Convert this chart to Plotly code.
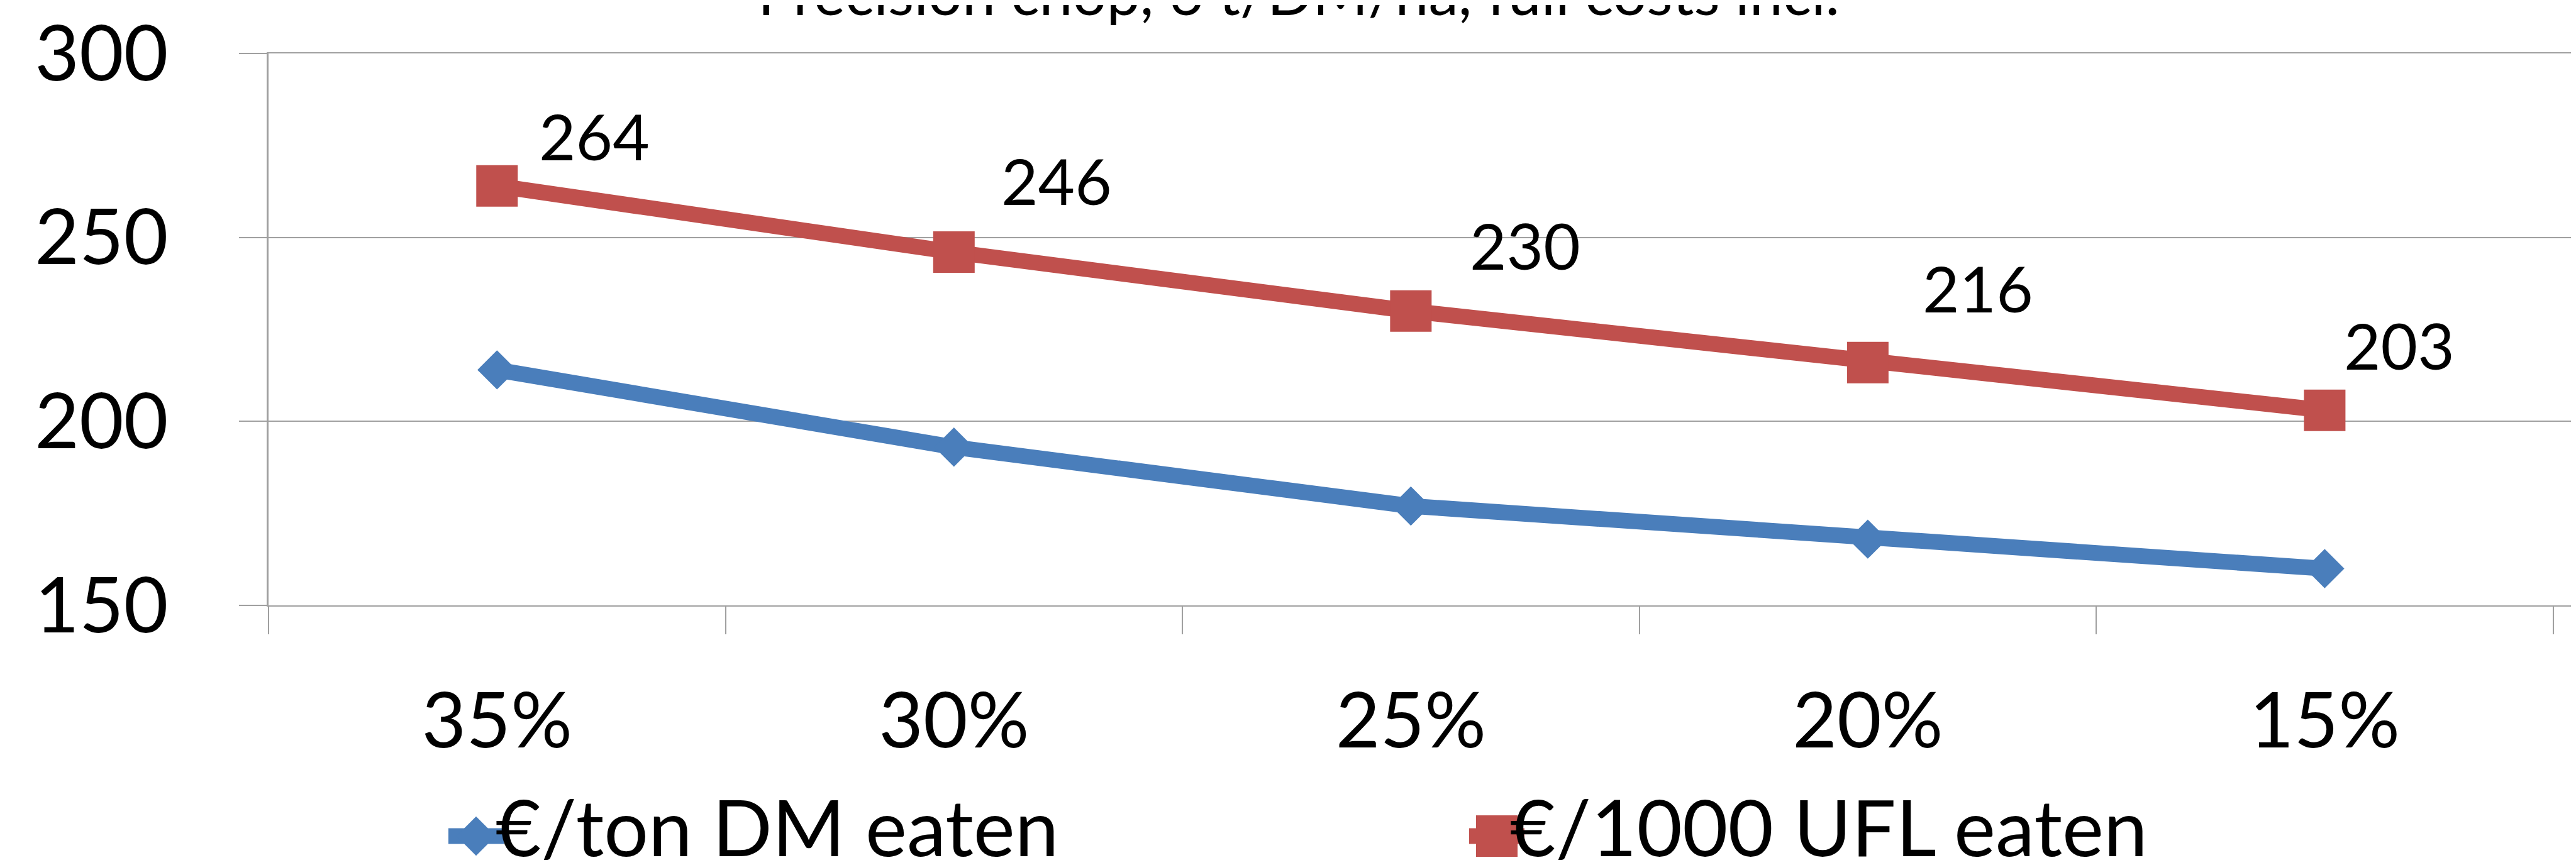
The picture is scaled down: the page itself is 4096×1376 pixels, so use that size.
import plotly.graph_objects as go

# ---- data ----
categories = ["35%", "30%", "25%", "20%", "15%"]
dm_eaten = [214, 193, 177, 168, 160]          # €/ton DM eaten
ufl_eaten = [264, 246, 230, 216, 203]         # €/1000 UFL eaten
series_names = ["€/ton DM eaten", "€/1000 UFL eaten"]
title_text = "Precision chop, 6 t/DM/ha, full costs incl."
y_ticks = [150, 200, 250, 300]

# ---- styling / layout constants (output pixels) ----
W, H = 4096, 1376
ML, MR, MT, MB = 419, 0, 77, 421
PW, PH = W - ML - MR, H - MT - MB
FONT = "Lato"
BLUE = "#4A7EBB"
RED = "#C0504D"
GRID = "#A0A0A0"
TICK_FS = 122
LEGEND_FS = 125
LABEL_FS = 101
TITLE_FS = 95
LINE_W = 25
SQ_SIZE = 66
DIA_SIZE = 48
# data-label offsets (px) relative to each red point
label_shift = [(155, 80), (163, 114), (182, 105), (175, 119), (119, 104)]

x = list(range(len(categories)))

def px_to_paper_x(px):
    return (px - ML) / PW

def px_to_paper_y(py):
    return (H - MB - py) / PH

fig = go.Figure()
fig.add_trace(go.Scatter(
    x=x, y=dm_eaten, name=series_names[0], mode="lines+markers",
    line=dict(color=BLUE, width=LINE_W),
    marker=dict(symbol="diamond", size=DIA_SIZE, color=BLUE),
    showlegend=False, cliponaxis=False))
fig.add_trace(go.Scatter(
    x=x, y=ufl_eaten, name=series_names[1], mode="lines+markers",
    line=dict(color=RED, width=LINE_W),
    marker=dict(symbol="square", size=SQ_SIZE, color=RED),
    showlegend=False, cliponaxis=False))

annotations = []
for i, v in enumerate(ufl_eaten):
    dx, dy = label_shift[i]
    annotations.append(dict(
        x=x[i], y=v, xref="x", yref="y", text=str(v), showarrow=False,
        xshift=dx, yshift=dy, xanchor="center", yanchor="middle",
        font=dict(family=FONT, size=LABEL_FS, color="black")))

# title (mostly cut off at the top edge, as in the reference)
annotations.append(dict(
    x=px_to_paper_x(2057), y=px_to_paper_y(38), xref="paper", yref="paper",
    text=title_text, showarrow=False, xanchor="center", yanchor="bottom",
    font=dict(family=FONT, size=TITLE_FS, color="black")))

# custom legend
legend_y = 1322
legend_items = [(749, 778, BLUE, "diamond", series_names[0]),
                (2372, 2391, RED, "square", series_names[1])]
shapes = []
for cx, tx, col, sym, name in legend_items:
    ax_ = px_to_paper_x(cx)
    ay_ = px_to_paper_y(legend_y)
    shapes.append(dict(type="line", xref="paper", yref="paper",
                       xsizemode="pixel", ysizemode="pixel",
                       xanchor=ax_, yanchor=ay_, x0=-44, x1=44, y0=0, y1=0,
                       line=dict(color=col, width=LINE_W)))
    if sym == "diamond":
        r = DIA_SIZE / 2 * 1.3
        path = f"M{-r},0 L0,{r} L{r},0 L0,{-r} Z"
    else:
        r = SQ_SIZE / 2
        path = f"M{-r},{-r} L{r},{-r} L{r},{r} L{-r},{r} Z"
    shapes.append(dict(type="path", xref="paper", yref="paper",
                       xsizemode="pixel", ysizemode="pixel",
                       xanchor=ax_, yanchor=ay_, path=path,
                       fillcolor=col, line=dict(width=0)))
    annotations.append(dict(
        x=px_to_paper_x(tx), y=px_to_paper_y(legend_y - 16), xref="paper", yref="paper",
        text=name, showarrow=False, xanchor="left", yanchor="middle",
        font=dict(family=FONT, size=LEGEND_FS, color="black")))

fig.update_layout(
    width=W, height=H,
    margin=dict(l=ML, r=MR, t=MT, b=MB, pad=0),
    paper_bgcolor="white", plot_bgcolor="white",
    font=dict(family=FONT, size=TICK_FS, color="black"),
    annotations=annotations, shapes=shapes,
    showlegend=False,
)
fig.update_xaxes(
    range=[-0.5, 4.561], tickmode="array", tickvals=x, ticktext=categories,
    ticks="", showgrid=False, zeroline=False,
    showline=True, linecolor=GRID, linewidth=2, mirror=True,
    tickfont=dict(family=FONT, size=TICK_FS, color="black"),
    ticklabelstandoff=78, ticklabeloverflow="allow",
    minor=dict(tickmode="array", tickvals=[i - 0.5 for i in range(len(categories) + 1)],
               ticks="outside", ticklen=44, tickwidth=2, tickcolor=GRID, showgrid=False),
)
fig.update_yaxes(
    range=[150, 300], tickmode="array", tickvals=y_ticks,
    ticks="outside", ticklen=44, tickwidth=2, tickcolor=GRID,
    showgrid=True, gridcolor=GRID, gridwidth=2, zeroline=False,
    showline=True, linecolor=GRID, linewidth=3,
    tickfont=dict(family=FONT, size=TICK_FS, color="black"),
    ticklabelstandoff=88, ticklabeloverflow="allow",
)

fig.write_html("out.html")
